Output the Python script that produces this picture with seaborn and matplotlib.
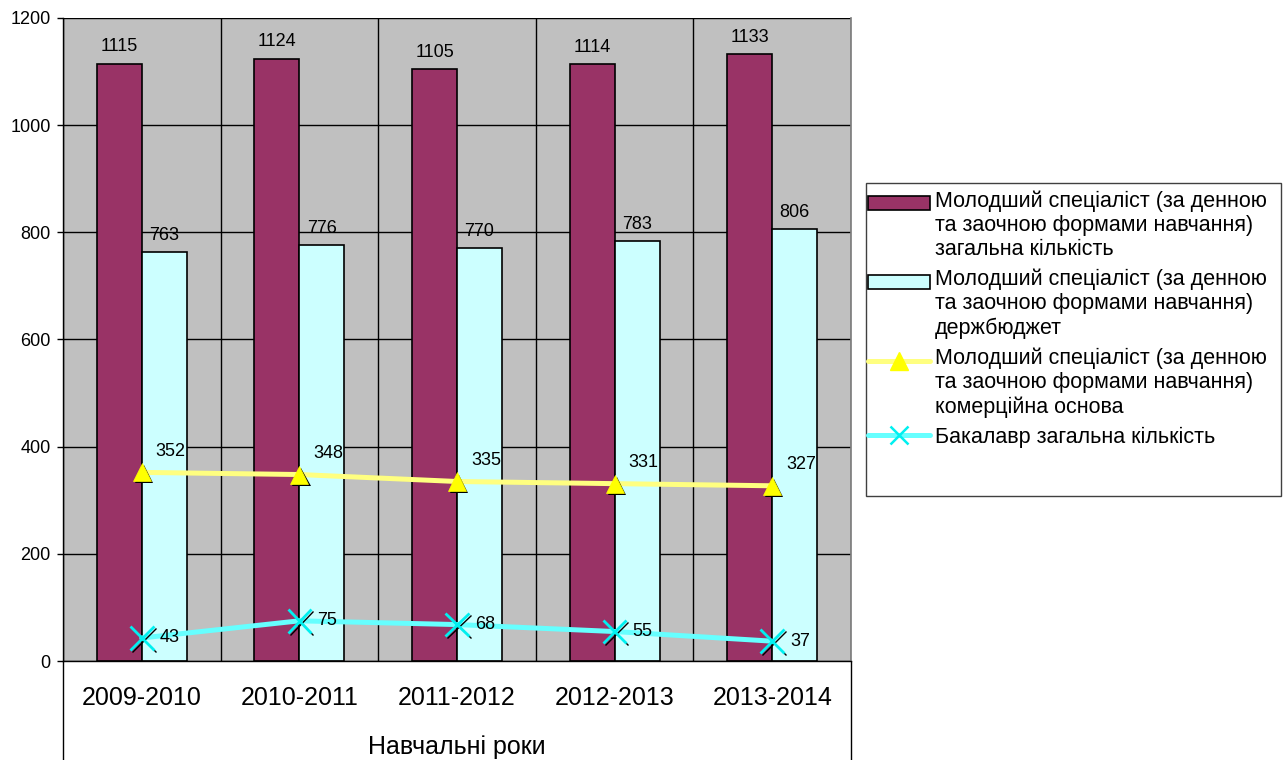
import numpy as np
import pandas as pd
import seaborn as sns
import matplotlib.pyplot as plt
from matplotlib import patheffects
from matplotlib.patches import Patch, Rectangle
from matplotlib.lines import Line2D
from matplotlib.legend_handler import HandlerPatch, HandlerLine2D

# data
years = ["2009-2010", "2010-2011", "2011-2012", "2012-2013", "2013-2014"]
total = [1115, 1124, 1105, 1114, 1133]
budget = [763, 776, 770, 783, 806]
commercial = [352, 348, 335, 331, 327]
bachelor = [43, 75, 68, 55, 37]

lab_total = "Молодший спеціаліст (за денною\nта заочною формами навчання)\nзагальна кількість"
lab_budget = "Молодший спеціаліст (за денною\nта заочною формами навчання)\nдержбюджет"
lab_comm = "Молодший спеціаліст (за денною\nта заочною формами навчання)\nкомерційна основа"
lab_bach = "Бакалавр загальна кількість"

maroon = "#993366"
cyan_bar = "#CCFFFF"
yellow_line = "#FFFF80"
yellow_mark = "#FFFF00"
cyan_line = "#66FFFF"
cyan_mark = "#00F0F0"

sns.set_theme(style="white")
plt.rcParams["font.family"] = ["Liberation Sans", "DejaVu Sans"]
plt.rcParams["text.color"] = "black"
plt.rcParams["axes.labelcolor"] = "black"
plt.rcParams["xtick.color"] = "black"
plt.rcParams["ytick.color"] = "black"

LEG_FS = 15.5


# multi-line legend labels: keep the key next to the first line, like Excel does
class TopPatch(HandlerPatch):
    def create_artists(self, legend, orig_handle, xdescent, ydescent, width, height, fontsize, trans):
        shift = 1.03 * fontsize if "\n" in getattr(orig_handle, "_lab", "") else 0
        return super().create_artists(legend, orig_handle, xdescent, ydescent - shift,
                                      width, height, fontsize, trans)


class TopLine(HandlerLine2D):
    def create_artists(self, legend, orig_handle, xdescent, ydescent, width, height, fontsize, trans):
        shift = 1.03 * fontsize if "\n" in getattr(orig_handle, "_lab", "") else 0
        return super().create_artists(legend, orig_handle, xdescent, ydescent,
                                      width, height + 2 * shift, fontsize, trans)


df = pd.DataFrame({
    "year": years * 2,
    "value": total + budget,
    "series": [lab_total] * len(years) + [lab_budget] * len(years),
})

fig = plt.figure(figsize=(12.85, 7.6), dpi=100)
ax = fig.add_axes([63 / 1285, 1 - 661 / 760, (851 - 63) / 1285, (661 - 18) / 760])
ax.set_facecolor("#C0C0C0")

sns.barplot(data=df, x="year", y="value", hue="series", palette=[maroon, cyan_bar],
            width=0.57, gap=0, edgecolor="black", linewidth=1.2, saturation=1,
            legend=False, ax=ax)
for cont in ax.containers:
    ax.bar_label(cont, padding=6, fontsize=13)

# lines first, markers on top with a shadow
sns.pointplot(x=years, y=commercial, color=yellow_line, markers="", linestyles="-",
              linewidth=3.6, errorbar=None, zorder=3, ax=ax)
sns.pointplot(x=years, y=bachelor, color=cyan_line, markers="", linestyles="-",
              linewidth=3.6, errorbar=None, zorder=3, ax=ax)
sns.pointplot(x=years, y=commercial, color=yellow_mark, markers="^", linestyles="none",
              markersize=13, markeredgecolor=yellow_mark, markeredgewidth=0.5,
              errorbar=None, zorder=4, ax=ax,
              path_effects=[patheffects.SimplePatchShadow(offset=(1.5, -1.5), shadow_rgbFace="black", alpha=1),
                            patheffects.Normal()])
sns.pointplot(x=years, y=bachelor, color=cyan_mark, markers="x", linestyles="none",
              markersize=17, markeredgewidth=2, errorbar=None, zorder=4, ax=ax,
              path_effects=[patheffects.SimpleLineShadow(offset=(1.5, -1.5), shadow_color="black",
                                                          alpha=1, linewidth=1),
                            patheffects.Normal()])

for i, v in enumerate(commercial):
    ax.annotate(str(v), (i, v), xytext=(10, 15), textcoords="offset points",
                ha="left", va="center", fontsize=13, zorder=5)
for i, v in enumerate(bachelor):
    ax.annotate(str(v), (i, v), xytext=(13, 0), textcoords="offset points",
                ha="left", va="center", fontsize=13, zorder=5)

ax.set_xlim(-0.5, len(years) - 0.5)
ax.set_ylim(0, 1200)
ax.set_yticks(np.arange(0, 1201, 200))
ax.set_xticks(range(len(years)))
ax.set_xticklabels(years)
ax.set_xticks(np.arange(-0.5, len(years), 1), minor=True)
ax.tick_params(axis="x", which="major", length=0, pad=18, labelsize=18)
ax.tick_params(axis="x", which="minor", length=41, width=1, color="black", direction="out")
ax.tick_params(axis="y", length=4, width=1, color="black", direction="out", pad=5, labelsize=13, left=True)
ax.set_axisbelow(True)
ax.grid(axis="y", which="major", color="black", linewidth=1)
ax.grid(axis="x", which="minor", color="black", linewidth=1)
ax.grid(axis="x", which="major", visible=False)

for side in ["left", "bottom"]:
    ax.spines[side].set_color("black")
    ax.spines[side].set_linewidth(1)
ax.spines["right"].set_color("#808080")
ax.spines["top"].set_visible(False)

# outer borders of the two-level category axis
for xa in [0, 1]:
    ax.plot([xa, xa], [0, -99 / 643], transform=ax.transAxes, clip_on=False,
            color="black", linewidth=1)

ax.set_xlabel("Навчальні роки", fontsize=18, labelpad=9)
ax.set_ylabel("")

h_total = Patch(facecolor=maroon, edgecolor="black", linewidth=1.2)
h_budget = Patch(facecolor=cyan_bar, edgecolor="black", linewidth=1.2)
h_comm = Line2D([], [], color=yellow_line, linewidth=3.6, marker="^", markersize=13,
                markerfacecolor=yellow_mark, markeredgecolor=yellow_mark)
h_bach = Line2D([], [], color=cyan_line, linewidth=3.6, marker="x", markersize=13,
                markeredgecolor=cyan_mark, markeredgewidth=1.8)
for h, lab in zip([h_total, h_budget, h_comm, h_bach], [lab_total, lab_budget, lab_comm, lab_bach]):
    h._lab = lab

fig.legend([h_total, h_budget, h_comm, h_bach], [lab_total, lab_budget, lab_comm, lab_bach],
           loc="upper left", bbox_to_anchor=(868 / 1285, 1 - 190 / 760),
           frameon=False, fontsize=LEG_FS, handlelength=2.9, handleheight=0.6,
           handletextpad=0.2, labelspacing=0.4, borderpad=0, borderaxespad=0,
           handler_map={Patch: TopPatch(), Line2D: TopLine()})
fig.patches.append(Rectangle((866 / 1285, 1 - 496 / 760), (1281 - 866) / 1285, (496 - 183) / 760,
                             transform=fig.transFigure, fill=False, edgecolor="#404040", linewidth=1))

fig.savefig("out.png", dpi=100)
